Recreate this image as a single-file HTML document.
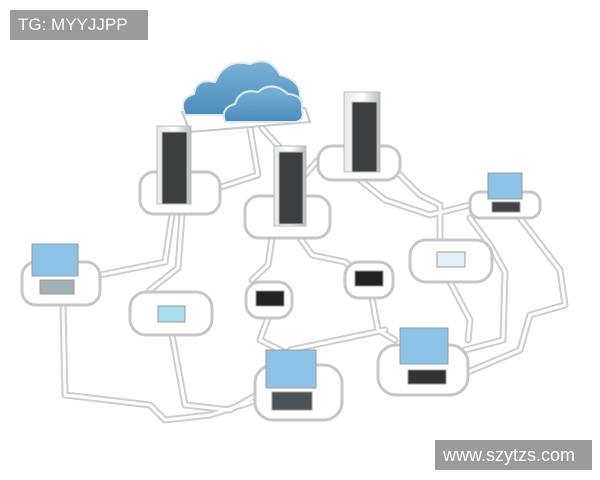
<!DOCTYPE html>
<html><head><meta charset="utf-8"><style>
body{margin:0;width:600px;height:480px;background:#fff;overflow:hidden;position:relative;font-family:"Liberation Sans",sans-serif}
.lab{position:absolute;background:#9a9a9a;color:#fff;font-size:17px;line-height:30px;padding:0 8px}
</style></head><body>
<svg width="600" height="480" style="position:absolute;left:0;top:0">
<defs>
<linearGradient id="sv" x1="0" x2="1"><stop offset="0" stop-color="#e8e8e8"/><stop offset="0.5" stop-color="#fff"/><stop offset="1" stop-color="#bbb"/></linearGradient>
<linearGradient id="cl" x1="0" y1="0" x2="0" y2="1"><stop offset="0" stop-color="#7ab3d6"/><stop offset="1" stop-color="#4a8cbc"/></linearGradient>
</defs>
<g fill="none" stroke-linejoin="round" stroke-linecap="round">
<g stroke="#cdcdcd" stroke-width="7">
<path d="M172 215 L165 262 L100 275"/>
<path d="M182 215 L178 268 L150 290"/>
<path d="M250 128 L258 175 L218 188"/>
<path d="M262 128 L282 150"/>
<path d="M272 238 L268 265 L252 280"/>
<path d="M300 238 L312 255 L345 262 L352 268"/>
<path d="M318 160 L300 180"/>
<path d="M360 180 L385 200 L430 215 L470 205"/>
<path d="M395 170 L420 195 L440 205 L440 242"/>
<path d="M470 218 L490 245 L505 272 L503 340 L465 350"/>
<path d="M520 218 L560 270 L565 305 L530 315 L520 350 L468 372"/>
<path d="M63 305 L65 395 L150 405 L165 420 L210 415 L258 400"/>
<path d="M172 335 L185 405 L230 410 L262 392"/>
<path d="M268 318 L260 340 L290 355"/>
<path d="M372 298 L378 330 L395 340"/>
<path d="M290 350 L385 330"/>
<path d="M450 282 L470 320 L468 340"/>
</g>
<g stroke="#fff" stroke-width="3">
<path d="M172 215 L165 262 L100 275"/>
<path d="M182 215 L178 268 L150 290"/>
<path d="M250 128 L258 175 L218 188"/>
<path d="M262 128 L282 150"/>
<path d="M272 238 L268 265 L252 280"/>
<path d="M300 238 L312 255 L345 262 L352 268"/>
<path d="M318 160 L300 180"/>
<path d="M360 180 L385 200 L430 215 L470 205"/>
<path d="M395 170 L420 195 L440 205 L440 242"/>
<path d="M470 218 L490 245 L505 272 L503 340 L465 350"/>
<path d="M520 218 L560 270 L565 305 L530 315 L520 350 L468 372"/>
<path d="M63 305 L65 395 L150 405 L165 420 L210 415 L258 400"/>
<path d="M172 335 L185 405 L230 410 L262 392"/>
<path d="M268 318 L260 340 L290 355"/>
<path d="M372 298 L378 330 L395 340"/>
<path d="M290 350 L385 330"/>
<path d="M450 282 L470 320 L468 340"/>
</g>
</g>
<g fill="#fff" stroke="#c6c6c6" stroke-width="3">
<rect x="140" y="172" width="80" height="42" rx="14"/>
<rect x="245" y="196" width="85" height="42" rx="14"/>
<rect x="318" y="146" width="82" height="34" rx="14"/>
<rect x="22" y="262" width="78" height="43" rx="14"/>
<rect x="130" y="292" width="82" height="43" rx="16"/>
<rect x="246" y="282" width="46" height="36" rx="14"/>
<rect x="345" y="262" width="48" height="36" rx="14"/>
<rect x="410" y="240" width="82" height="42" rx="16"/>
<rect x="470" y="192" width="70" height="26" rx="10"/>
<rect x="255" y="365" width="87" height="55" rx="18"/>
<rect x="378" y="345" width="90" height="50" rx="18"/>
<path d="M182 112 L305 108 L310 122 L190 132 Z" stroke-width="2"/>
</g>
<g fill="url(#cl)" stroke="#dfe8ee" stroke-width="2">
<path d="M185 115 Q178 98 194 94 Q196 78 215 82 Q225 58 250 64 Q270 55 280 75 Q300 80 300 95 Q305 108 298 115 Z"/>
<path d="M225 122 Q220 108 235 104 Q240 88 258 92 Q272 80 288 94 Q304 95 302 110 Q305 120 296 122 Z"/>
</g>
<g stroke="#bbb" stroke-width="1">
<rect x="157" y="126" width="34" height="78" fill="url(#sv)"/><rect x="162" y="132" width="25" height="72" fill="#3a3f42"/>
<rect x="274" y="146" width="32" height="80" fill="url(#sv)"/><rect x="279" y="152" width="24" height="72" fill="#3a3f42"/>
<rect x="344" y="92" width="36" height="80" fill="url(#sv)"/><rect x="352" y="102" width="25" height="70" fill="#3a3f42"/>
</g>
<g stroke="#999" stroke-width="1">
<rect x="32" y="244" width="46" height="32" fill="#8cc3e6"/><rect x="40" y="280" width="34" height="14" fill="#9fb0b8"/>
<rect x="158" y="306" width="27" height="16" fill="#a8dcef"/>
<rect x="256" y="291" width="28" height="15" fill="#222"/>
<rect x="355" y="271" width="28" height="15" fill="#222"/>
<rect x="437" y="252" width="28" height="15" fill="#dff2f8"/>
<rect x="488" y="173" width="34" height="26" fill="#8cc3e6"/><rect x="492" y="202" width="28" height="10" fill="#444"/>
<rect x="266" y="350" width="50" height="38" fill="#8cc3e6"/><rect x="272" y="392" width="40" height="18" fill="#4a5358"/>
<rect x="400" y="328" width="48" height="36" fill="#8cc3e6"/><rect x="408" y="370" width="38" height="14" fill="#333"/>
</g>
</svg>
<div class="lab" style="left:10px;top:10px;width:122px">TG: MYYJJPP</div>
<div class="lab" style="left:435px;top:440px;width:141px;font-size:18px">www.szytzs.com</div>
</body></html>
